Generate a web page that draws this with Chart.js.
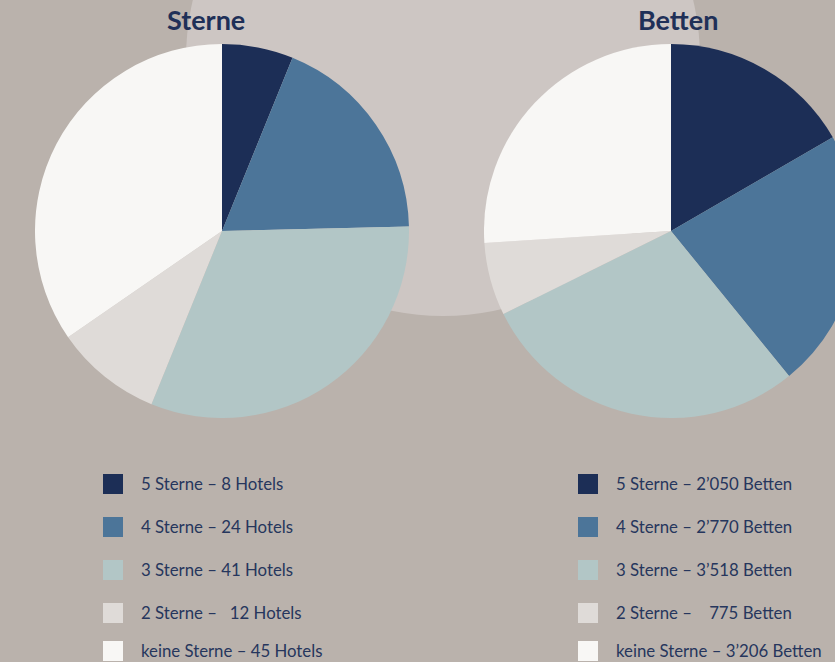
<!DOCTYPE html>
<html>
<head>
<meta charset="utf-8">
<script src="https://cdn.jsdelivr.net/npm/chart.js@4/dist/chart.umd.min.js"></script>
<style>
  html, body { margin:0; padding:0; width:835px; height:662px; overflow:hidden; background:#bab2ac; }
  body { position:relative; font-family: Lato, "Noto Sans", sans-serif; color:#26365d; }
  #bgcircle { position:absolute; left:186px; top:-198px; width:514px; height:514px; border-radius:50%; background:#cdc6c3; }
  .title { position:absolute; top:3px; font-weight:bold; font-size:27px; color:#1f3058; white-space:nowrap; }
  .cv { position:absolute; }
  .item { position:absolute; white-space:nowrap; font-size:16.8px; }
  .box { position:absolute; width:20px; height:20px; }
  .lbl { position:absolute; line-height:20px; }
</style>
</head>
<body>
<div id="bgcircle"></div>
<div class="title" id="t1" style="left:167px;">Sterne</div>
<div class="title" id="t2" style="left:638px;">Betten</div>
<div class="cv" style="left:35px; top:44px; width:374px; height:374px;"><canvas id="c1" width="374" height="374"></canvas></div>
<div class="cv" style="left:484px; top:44px; width:374px; height:374px;"><canvas id="c2" width="374" height="374"></canvas></div>
<div id="legends"></div>
<script>
const categories = ["5 Sterne", "4 Sterne", "3 Sterne", "2 Sterne", "keine Sterne"];
const hotels = [8, 24, 41, 12, 45];
const beds = [2050, 2770, 3518, 775, 3206];
const hotelLabels = ["5 Sterne – 8 Hotels", "4 Sterne – 24 Hotels", "3 Sterne – 41 Hotels", "2 Sterne –\u00a0\u00a0 12 Hotels", "keine Sterne – 45 Hotels"];
const bedLabels = ["5 Sterne – 2’050 Betten", "4 Sterne – 2’770 Betten", "3 Sterne – 3’518 Betten", "2 Sterne –\u00a0\u00a0\u00a0 775 Betten", "keine Sterne – 3’206 Betten"];
const colors = ["#1c2e56", "#4c7599", "#b2c6c6", "#dfdbd8", "#f8f7f5"];

function makePie(id, data) {
  return new Chart(document.getElementById(id), {
    type: 'pie',
    data: { labels: categories, datasets: [{ data: data, backgroundColor: colors, borderWidth: 0 }] },
    options: {
      responsive: false,
      animation: false,
      layout: { padding: 0 },
      plugins: { legend: { display: false }, tooltip: { enabled: false }, title: { display: false } }
    }
  });
}
makePie('c1', hotels);
makePie('c2', beds);

const rowTops = [474, 517, 560, 603, 641];
function makeLegend(labels, boxX, textX) {
  const container = document.getElementById('legends');
  labels.forEach((t, i) => {
    const b = document.createElement('div');
    b.className = 'box';
    b.style.left = boxX + 'px'; b.style.top = rowTops[i] + 'px';
    b.style.background = colors[i];
    container.appendChild(b);
    const l = document.createElement('div');
    l.className = 'lbl item';
    l.style.left = textX + 'px'; l.style.top = rowTops[i] + 'px';
    l.textContent = t;
    container.appendChild(l);
  });
}
makeLegend(hotelLabels, 103, 141);
makeLegend(bedLabels, 578, 616);
</script>
</body>
</html>
